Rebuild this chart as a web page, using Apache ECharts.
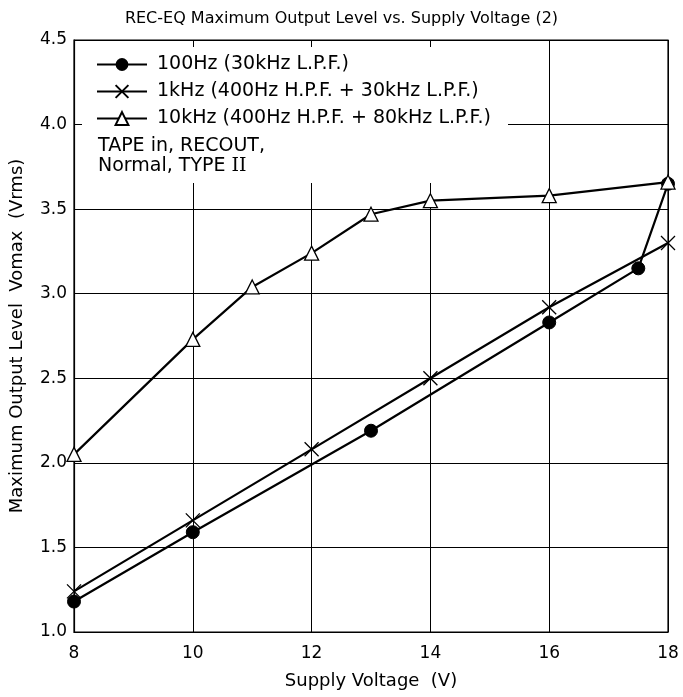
<!DOCTYPE html>
<html>
<head>
<meta charset="utf-8">
<script src="https://cdn.jsdelivr.net/npm/echarts@6/dist/echarts.min.js"></script>
<style>html,body{margin:0;padding:0;background:#fff}#c{width:683px;height:697px}</style>
</head>
<body>
<div id="c"></div>
<script>
var titleText = 'REC-EQ Maximum Output Level vs. Supply Voltage (2)';
var xName = 'Supply Voltage  (V)';
var yName = 'Maximum Output Level  Vomax  (Vrms)';
var seriesNames = ['100Hz (30kHz L.P.F.)', '1kHz (400Hz H.P.F. + 30kHz L.P.F.)', '10kHz (400Hz H.P.F. + 80kHz L.P.F.)'];
var volt100 = [8, 10, 13, 16, 17.5, 18];
var out100 = [1.18, 1.59, 2.19, 2.83, 3.15, 3.65];
var volt1k = [8, 10, 12, 14, 16, 18];
var out1k = [1.24, 1.66, 2.08, 2.50, 2.92, 3.30];
var volt10k = [8, 10, 11, 12, 13, 14, 16, 18];
var out10k = [2.05, 2.73, 3.04, 3.24, 3.47, 3.55, 3.58, 3.66];
var noteLine1 = 'TAPE in, RECOUT,';
var noteLine2 = 'Normal, TYPE ';
var noteRoman = 'II';

function pairs(xs, ys){ return xs.map(function(x,i){ return [x, ys[i]]; }); }

var font = 'DejaVu Sans, sans-serif';
var chart = echarts.init(document.getElementById('c'));
var crossPath = 'path://M0,0L10,10M10,0L0,10';
chart.setOption({
  animation: false,
  backgroundColor: '#fff',
  title: { text: titleText, left: 'center', top: 6, textStyle: { fontFamily: font, fontSize: 16, fontWeight: 'normal', color: '#000' } },
  grid: { left: 74, right: 15, top: 40, bottom: 65, show: true, borderColor: '#000', borderWidth: 1.2 },
  legend: {
    orient: 'vertical', left: 91, top: 50, itemWidth: 50, itemHeight: 16, itemGap: 8,
    textStyle: { fontFamily: font, fontSize: 19, lineHeight: 19, color: '#000', padding: [0, 0, 0, 5] },
    data: seriesNames, z: 10
  },
  graphic: [
    { type: 'rect', z: 1, shape: { x: 82, y: 47, width: 426, height: 136 }, style: { fill: '#fff' } },
    { type: 'text', z: 11, left: 98, top: 137, style: { text: noteLine1, font: '19px ' + font, fill: '#000' } },
    { type: 'text', z: 11, left: 98, top: 157, style: { text: '{a|' + noteLine2 + '}{b|' + noteRoman + '}', rich: { a: { fontFamily: font, fontSize: 19, color: '#000' }, b: { fontFamily: 'DejaVu Serif, serif', fontSize: 19, color: '#000' } } } }
  ],
  xAxis: {
    type: 'value', min: 8, max: 18, interval: 2, name: xName, nameLocation: 'middle', nameGap: 40,
    nameTextStyle: { fontFamily: font, fontSize: 18, color: '#000' },
    axisLine: { lineStyle: { color: '#000', width: 1.2 } },
    axisTick: { show: false },
    axisLabel: { fontFamily: font, fontSize: 17, color: '#000', margin: 13 },
    splitLine: { lineStyle: { color: '#000', width: 1 } }
  },
  yAxis: {
    type: 'value', min: 1.0, max: 4.5, interval: 0.5, name: yName, nameLocation: 'middle', nameGap: 48,
    nameTextStyle: { fontFamily: font, fontSize: 18, color: '#000' },
    axisLine: { show: true, lineStyle: { color: '#000', width: 1.2 } },
    axisTick: { show: false },
    axisLabel: { fontFamily: font, fontSize: 17, color: '#000', margin: 7, formatter: function(v){ return v.toFixed(1); } },
    splitLine: { lineStyle: { color: '#000', width: 1 } }
  },
  series: [
    { name: seriesNames[0], type: 'line', z: 5, data: pairs(volt100, out100), symbol: 'circle', symbolSize: 13,
      lineStyle: { color: '#000', width: 2.2 }, itemStyle: { color: '#000', borderColor: '#000' } },
    { name: seriesNames[1], type: 'line', z: 5, data: pairs(volt1k, out1k), symbol: crossPath, symbolSize: 14,
      lineStyle: { color: '#000', width: 2.2 }, itemStyle: { color: 'rgba(0,0,0,0)', borderColor: '#000', borderWidth: 1.3 } },
    { name: seriesNames[2], type: 'line', z: 6, data: pairs(volt10k, out10k), symbol: 'triangle', symbolSize: 14,
      lineStyle: { color: '#000', width: 2.2 }, itemStyle: { color: '#fff', borderColor: '#000', borderWidth: 1.3 } }
  ]
});
</script>
</body>
</html>
